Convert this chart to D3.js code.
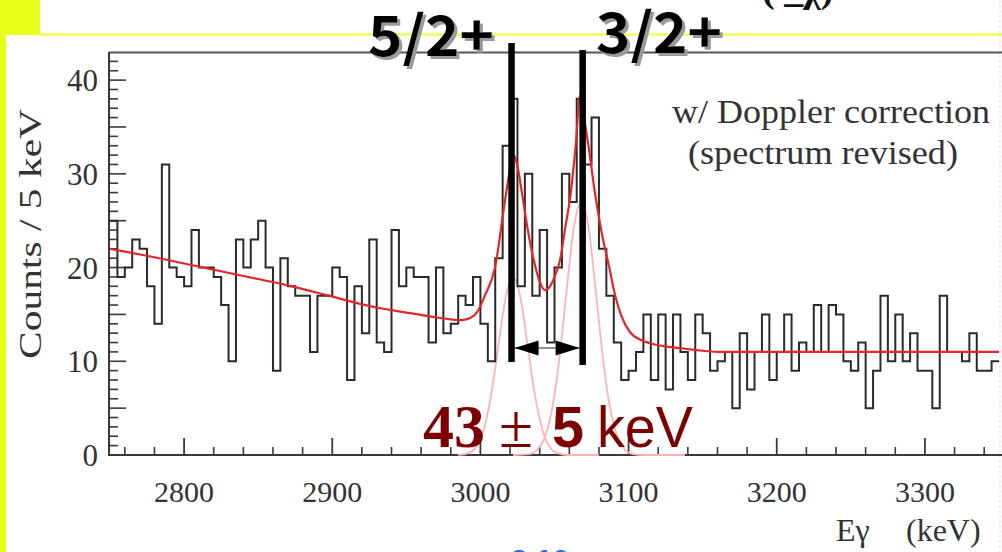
<!DOCTYPE html>
<html>
<head>
<meta charset="utf-8">
<script src="https://cdn.jsdelivr.net/npm/d3@7"></script>
<style>
  html, body { margin: 0; padding: 0; background: #fff; }
  svg { display: block; }
</style>
</head>
<body>
<svg id="chart" width="1002" height="552"></svg>
<script>
// Gamma-ray spectrum, 5 keV bins from 2750 to 3350 keV
const binStart = 2750;
const binWidth = 5;
const counts = [
  25, 19, 20, 23, 22, 18, 14, 31, 20, 19,
  18, 24, 20, 20, 19, 16, 10, 23, 20, 23,
  25, 20, 9, 21, 18, 17, 17, 11, 17, 17,
  20, 19, 8, 18, 13, 23, 12, 11, 24, 18,
  20, 19, 19, 12, 20, 13, 14, 17, 16, 19,
  14, 10, 21, 33, 38, 18, 30, 17, 24, 12,
  20, 30, 27, 38, 31, 36, 22, 17, 12, 8,
  9, 11, 15, 8, 15, 7, 15, 11, 8, 15,
  13, 9, 10, 11, 5, 13, 7, 11, 15, 8,
  11, 15, 9, 12, 11, 16, 11, 16, 15, 10,
  9, 12, 5, 9, 17, 10, 15, 10, 13, 9,
  9, 5, 17, 11, 11, 10, 13, 9, 9, 10
];

// Fitted curve (background + two peaks), energy / counts pairs
const fitTotal = [
  [2750, 22.0], [2780, 21.1], [2810, 20.1], [2840, 19.1], [2870, 18.1],
  [2900, 16.9], [2925, 15.9], [2950, 15.2], [2970, 14.7], [2986, 14.4],
  [2991, 14.5], [2998, 15.3], [3003, 17.0], [3010, 20.1], [3016, 26.5],
  [3020, 30.5], [3022.5, 32.0], [3025, 30.8], [3028, 28.0], [3032, 24.0],
  [3036, 20.8], [3040, 18.5], [3043.5, 17.6], [3047, 18.0], [3050, 19.0],
  [3054, 21.0], [3057, 24.0], [3061, 28.0], [3064, 32.5], [3067.5, 38.4],
  [3070, 36.0], [3073, 32.9], [3077, 28.3], [3082, 23.6], [3087, 20.0],
  [3091, 17.0], [3095, 14.9], [3101, 13.1], [3108, 12.3], [3115, 11.9],
  [3135, 11.4], [3162, 11.0], [3350, 11.0]
];

// Individual peak components
const peakLow = [
  [2985, 0], [2992, 0.2], [2997, 0.8], [3002, 2.6], [3007, 6.2], [3012, 11.5],
  [3017, 16.8], [3022, 19], [3027, 16.8], [3032, 11.5], [3037, 6.2], [3042, 2.6],
  [3047, 0.8], [3052, 0.2], [3059, 0], [3080, 0]
];
const peakHigh = [
  [3022, 0], [3033, 0.1], [3038, 0.5], [3043, 1.7], [3048, 4.6], [3053, 9.9],
  [3058, 17.3], [3063, 24.2], [3068, 27], [3073, 24.2], [3078, 17.3], [3083, 9.9],
  [3088, 4.6], [3093, 1.7], [3098, 0.5], [3103, 0.1], [3110, 0], [3138, 0]
];

// Peak positions marked with spin assignments
const peakEnergies = [3021, 3069];
const peakLabels = ["5/2+", "3/2+"];

const xMajorTicks = [2800, 2900, 3000, 3100, 3200, 3300];
const yMajorTicks = [0, 10, 20, 30, 40];

const svg = d3.select("#chart");
const W = 1002, H = 552;

const x = d3.scaleLinear().domain([2750, 3350]).range([110, 999]);
const y = d3.scaleLinear().domain([0, 43]).range([455, 52]);

// grey drop shadow for the spin labels
const defs = svg.append("defs");
const shadow = defs.append("filter").attr("id", "dropShadow")
  .attr("x", "-10%").attr("y", "-10%").attr("width", "130%").attr("height", "130%");
shadow.append("feOffset").attr("in", "SourceAlpha").attr("dx", 3).attr("dy", 3).attr("result", "off");
shadow.append("feFlood").attr("flood-color", "#9a9a9a").attr("result", "col");
shadow.append("feComposite").attr("in", "col").attr("in2", "off").attr("operator", "in").attr("result", "sh");
const merge = shadow.append("feMerge");
merge.append("feMergeNode").attr("in", "sh");
merge.append("feMergeNode").attr("in", "SourceGraphic");

// page decorations around the plot
const yellow = "#eaff1a";
svg.append("rect").attr("x", 0).attr("y", 0).attr("width", W).attr("height", H).attr("fill", "#fff");
svg.append("rect").attr("x", 0).attr("y", 0).attr("width", 40).attr("height", 35).attr("fill", yellow);
svg.append("rect").attr("x", 0).attr("y", 0).attr("width", 6).attr("height", H).attr("fill", yellow);
svg.append("rect").attr("x", 40).attr("y", 33).attr("width", 962).attr("height", 3).attr("fill", "#f2ff70");
svg.append("line").attr("x1", 1000).attr("x2", 1000).attr("y1", 0).attr("y2", H)
  .attr("stroke", "#d8d8d8").attr("stroke-width", 1).attr("stroke-dasharray", "3,2");

// partial text cut by the top edge
svg.append("text").attr("x", 762).attr("y", 2)
  .attr("font-family", "Liberation Serif").attr("font-weight", "bold").attr("font-size", 38)
  .attr("fill", "#111").text("( _χ)");
// partial text cut by the bottom edge
svg.append("text").attr("x", 540).attr("y", 570).attr("text-anchor", "middle")
  .attr("font-family", "Liberation Sans").attr("font-weight", "bold").attr("font-size", 30)
  .attr("fill", "#2f6fd0").text("3.10");

// frame
const axisColor = "#3a3a3a";
const frame = svg.append("g");
frame.append("line").attr("x1", 109).attr("x2", 1002).attr("y1", 52.5).attr("y2", 52.5)
  .attr("stroke", "#555").attr("stroke-width", 2);
frame.append("line").attr("x1", 109).attr("x2", 1002).attr("y1", y(0)).attr("y2", y(0))
  .attr("stroke", axisColor).attr("stroke-width", 2);
frame.append("line").attr("x1", 109).attr("x2", 109).attr("y1", 52).attr("y2", y(0) + 1)
  .attr("stroke", axisColor).attr("stroke-width", 2);

// x ticks (major 100 keV, minor 20 keV)
const xMinor = d3.range(2760, 3350, 20).filter(v => v % 100 !== 0);
const gx = svg.append("g");
gx.selectAll("line.minor").data(xMinor).join("line")
  .attr("x1", d => x(d)).attr("x2", d => x(d))
  .attr("y1", y(0)).attr("y2", y(0) - 8)
  .attr("stroke", axisColor).attr("stroke-width", 1.6);
gx.selectAll("line.major").data(xMajorTicks).join("line")
  .attr("x1", d => x(d)).attr("x2", d => x(d))
  .attr("y1", y(0)).attr("y2", y(0) - 17)
  .attr("stroke", axisColor).attr("stroke-width", 1.8);
gx.selectAll("text").data(xMajorTicks).join("text")
  .attr("x", d => x(d)).attr("y", 502)
  .attr("text-anchor", "middle")
  .attr("font-family", "Liberation Serif").attr("font-size", 30)
  .attr("fill", "#333").text(d => d);

// y ticks (major 10, half 5, minor 1)
const gy = svg.append("g");
const yAll = d3.range(0, 43, 1);
gy.selectAll("line").data(yAll).join("line")
  .attr("x1", 109).attr("x2", d => 109 + (d % 5 === 0 ? 17 : 9))
  .attr("y1", d => y(d)).attr("y2", d => y(d))
  .attr("stroke", axisColor).attr("stroke-width", 1.6);
gy.selectAll("text").data(yMajorTicks).join("text")
  .attr("x", 98).attr("y", d => y(d) + 11)
  .attr("text-anchor", "end")
  .attr("font-family", "Liberation Serif").attr("font-size", 31)
  .attr("fill", "#333").text(d => d);

// axis titles
svg.append("text")
  .attr("transform", "translate(41,234) rotate(-90)")
  .attr("text-anchor", "middle")
  .attr("font-family", "Liberation Serif").attr("font-size", 32)
  .attr("fill", "#333")
  .attr("textLength", 250).attr("lengthAdjust", "spacingAndGlyphs")
  .text("Counts / 5 keV");
const xt = svg.append("text").attr("y", 541)
  .attr("font-family", "Liberation Serif").attr("font-size", 32).attr("fill", "#333");
xt.append("tspan").attr("x", 836).text("Eγ");
xt.append("tspan").attr("x", 906).text("(keV)");

// note about the spectrum
svg.append("text").attr("x", 672).attr("y", 123)
  .attr("font-family", "Liberation Serif").attr("font-size", 33).attr("fill", "#333")
  .attr("textLength", 318).attr("lengthAdjust", "spacingAndGlyphs")
  .text("w/ Doppler correction");
svg.append("text").attr("x", 688).attr("y", 164)
  .attr("font-family", "Liberation Serif").attr("font-size", 33).attr("fill", "#333")
  .attr("textLength", 270).attr("lengthAdjust", "spacingAndGlyphs")
  .text("(spectrum revised)");

// plot contents clipped to the frame
svg.append("clipPath").attr("id", "plotClip").append("rect")
  .attr("x", 110).attr("y", 53).attr("width", 892).attr("height", y(0) - 53 + 1);
const plot = svg.append("g").attr("clip-path", "url(#plotClip)");

const compLine = d3.line().x(d => x(d[0])).y(d => y(d[1])).curve(d3.curveMonotoneX);
[peakLow, peakHigh].forEach(p => {
  plot.append("path").attr("d", compLine(p))
    .attr("fill", "none").attr("stroke", "#ffb3b3").attr("stroke-width", 1.8);
});

// histogram outline
const histPts = counts.map((c, i) => [binStart + i * binWidth, c]);
histPts.push([binStart + counts.length * binWidth, counts[counts.length - 1]]);
const stepLine = d3.line().x(d => x(d[0])).y(d => y(d[1])).curve(d3.curveStepAfter);
plot.append("path").attr("d", stepLine(histPts))
  .attr("fill", "none").attr("stroke", "#2a2a2a").attr("stroke-width", 2)
  .attr("stroke-linejoin", "miter");

// total fit
plot.append("path").attr("d", compLine(fitTotal))
  .attr("fill", "none").attr("stroke", "#e3262a").attr("stroke-width", 2.2);

// peak markers and spacing arrow
const markTop = [43, 50];
const markBottom = [362, 365];
peakEnergies.forEach((e, i) => {
  svg.append("line")
    .attr("x1", x(e)).attr("x2", x(e))
    .attr("y1", markTop[i]).attr("y2", markBottom[i])
    .attr("stroke", "#000").attr("stroke-width", 6.5);
});
const ay = 348;
const xa = x(peakEnergies[0]) + 3, xb = x(peakEnergies[1]) - 3;
svg.append("line").attr("x1", xa).attr("x2", xb).attr("y1", ay).attr("y2", ay)
  .attr("stroke", "#222").attr("stroke-width", 1.2);
svg.append("path")
  .attr("d", `M${xa},${ay} L${xa + 24},${ay - 7.5} L${xa + 24},${ay + 7.5} Z`)
  .attr("fill", "#000");
svg.append("path")
  .attr("d", `M${xb},${ay} L${xb - 24},${ay - 7.5} L${xb - 24},${ay + 7.5} Z`)
  .attr("fill", "#000");

// spin labels
const labelPos = [[368, 56], [596, 53]];
peakLabels.forEach((t, i) => {
  svg.append("text")
    .attr("x", labelPos[i][0]).attr("y", labelPos[i][1])
    .attr("font-family", "Noto Sans CJK JP").attr("font-weight", "bold")
    .attr("font-size", 55).attr("fill", "#000")
    .attr("filter", "url(#dropShadow)")
    .attr("textLength", 126).attr("lengthAdjust", "spacingAndGlyphs")
    .text(t);
});

// spacing value
const red = "#7d0000";
svg.append("text").attr("x", 423).attr("y", 447)
  .attr("font-family", "Liberation Serif").attr("font-weight", "bold")
  .attr("font-size", 62).attr("fill", red)
  .attr("textLength", 62).attr("lengthAdjust", "spacingAndGlyphs").text("43");
svg.append("text").attr("x", 499).attr("y", 447)
  .attr("font-family", "Liberation Serif")
  .attr("font-size", 62).attr("fill", red).text("±");
svg.append("text").attr("x", 552).attr("y", 447)
  .attr("font-family", "Liberation Sans").attr("font-weight", "bold")
  .attr("font-size", 58).attr("fill", red)
  .attr("textLength", 32).attr("lengthAdjust", "spacingAndGlyphs").text("5");
svg.append("text").attr("x", 597).attr("y", 447)
  .attr("font-family", "Liberation Sans")
  .attr("font-size", 58).attr("fill", red)
  .attr("textLength", 96).attr("lengthAdjust", "spacingAndGlyphs").text("keV");
</script>
</body>
</html>
